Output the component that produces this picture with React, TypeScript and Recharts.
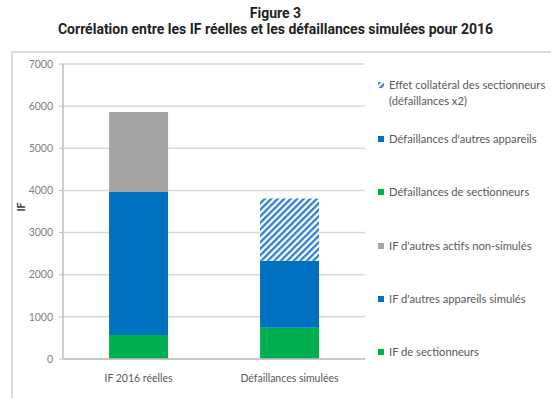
import { BarChart, Bar, XAxis, YAxis, CartesianGrid } from "recharts"

const categories = ["IF 2016 réelles", "Défaillances simulées"]

const ifSectionneurs = [570, 0]
const ifAutresAppareils = [3390, 0]
const ifAutresActifs = [1900, 0]
const defSectionneurs = [0, 740]
const defAutresAppareils = [0, 1590]
const effetCollateral = [0, 1480]

const yTicks = [0, 1000, 2000, 3000, 4000, 5000, 6000, 7000]

// stacked from bottom to top
const series = [
  { key: "ifSect", name: "IF de sectionneurs", values: ifSectionneurs, fill: "#00B050" },
  { key: "ifApp", name: "IF d'autres appareils simulés", values: ifAutresAppareils, fill: "#0070C0" },
  { key: "ifActifs", name: "IF d'autres actifs non-simulés", values: ifAutresActifs, fill: "#A5A5A5" },
  { key: "defSect", name: "Défaillances de sectionneurs", values: defSectionneurs, fill: "#00B050" },
  { key: "defApp", name: "Défaillances d'autres appareils", values: defAutresAppareils, fill: "#0070C0" },
  { key: "effet", name: "Effet collatéral des sectionneurs (défaillances x2)", values: effetCollateral, fill: "url(#hatch)" }
]

const data = categories.map((cat, i) => {
  const row: any = { cat }
  series.forEach(s => { row[s.key] = s.values[i] })
  return row
})

const font = "Lato, 'Open Sans', sans-serif"
const textGray = "#595959"

function HatchDefs({ id }: { id: string }) {
  return (
    <defs>
      <pattern id={id} width="4.6" height="4.6" patternUnits="userSpaceOnUse" patternTransform="rotate(45)">
        <rect width="4.6" height="4.6" fill="#ffffff" />
        <rect width="2.3" height="4.6" fill="#2F80CC" />
      </pattern>
    </defs>
  )
}

function LegendBox() {
  const items = [...series].reverse()
  return (
    <div style={{ position: "absolute", left: 378, top: 0, fontFamily: font, fontSize: 11.2, color: textGray }}>
      {items.map((s, i) => {
        const top = i === 0 ? 77 : 131 + (i - 1) * 53.3
        const isHatch = s.key === "effet"
        return (
          <div key={s.key} style={{ position: "absolute", top, left: 0, width: 172, display: "flex", alignItems: "flex-start", lineHeight: "16px" }}>
            <svg width={6} height={6} style={{ marginTop: 5, marginRight: 5, flexShrink: 0 }}>
              {isHatch && <HatchDefs id="hatchLegend" />}
              <rect width={6} height={6} fill={isHatch ? "url(#hatchLegend)" : s.fill} />
            </svg>
            <span style={{ whiteSpace: "nowrap" }}>
              {isHatch ? (
                <>Effet collatéral des sectionneurs<br />(défaillances x2)</>
              ) : s.name}
            </span>
          </div>
        )
      })}
    </div>
  )
}

export default function App() {
  return (
    <div style={{ position: "absolute", left: 0, top: 0, width: 551, height: 398, background: "#fff", overflow: "hidden" }}>
      <div style={{ position: "absolute", left: 0, top: 5, width: 551, textAlign: "center", fontFamily: "Roboto, sans-serif", fontWeight: 700, fontSize: 14, color: "#222", lineHeight: "16px" }}>
        Figure 3<br />Corrélation entre les IF réelles et les défaillances simulées pour 2016
      </div>

      <div style={{ position: "absolute", left: 11, top: 51, width: 560, height: 360, borderTop: "2px solid #DCDCDC", borderLeft: "2px solid #DCDCDC" }} />

      <div style={{ position: "absolute", left: 0, top: 0 }}>
        <BarChart
          width={551}
          height={398}
          data={data}
          margin={{ top: 64, right: 186, bottom: 9, left: 0 }}
          barCategoryGap="30.5%"
        >
          <HatchDefs id="hatch" />
          <CartesianGrid vertical={false} stroke="#D9D9D9" strokeWidth={1.5} />
          <XAxis
            dataKey="cat"
            height={30}
            axisLine={{ stroke: "#BFBFBF", strokeWidth: 1.5 }}
            tickLine={false}
            tick={{ fill: textGray, fontSize: 10.5, fontFamily: font }}
            tickMargin={10}
          />
          <YAxis
            width={63}
            domain={[0, 7000]}
            ticks={yTicks}
            interval={0}
            axisLine={{ stroke: "#BFBFBF", strokeWidth: 1.5 }}
            tickLine={{ stroke: "#BFBFBF" }}
            tickSize={4}
            tickMargin={6}
            tick={{ fill: "#7F7F7F", fontSize: 10.5, fontFamily: font }}
            label={{ value: "IF", angle: -90, position: "insideLeft", offset: 21, fill: "#404040", fontSize: 10.5, fontFamily: font, fontWeight: 700 }}
          />
          {series.map(s => (
            <Bar key={s.key} dataKey={s.key} name={s.name} stackId="a" fill={s.fill} isAnimationActive={false} />
          ))}
        </BarChart>
      </div>

      <LegendBox />
    </div>
  )
}
